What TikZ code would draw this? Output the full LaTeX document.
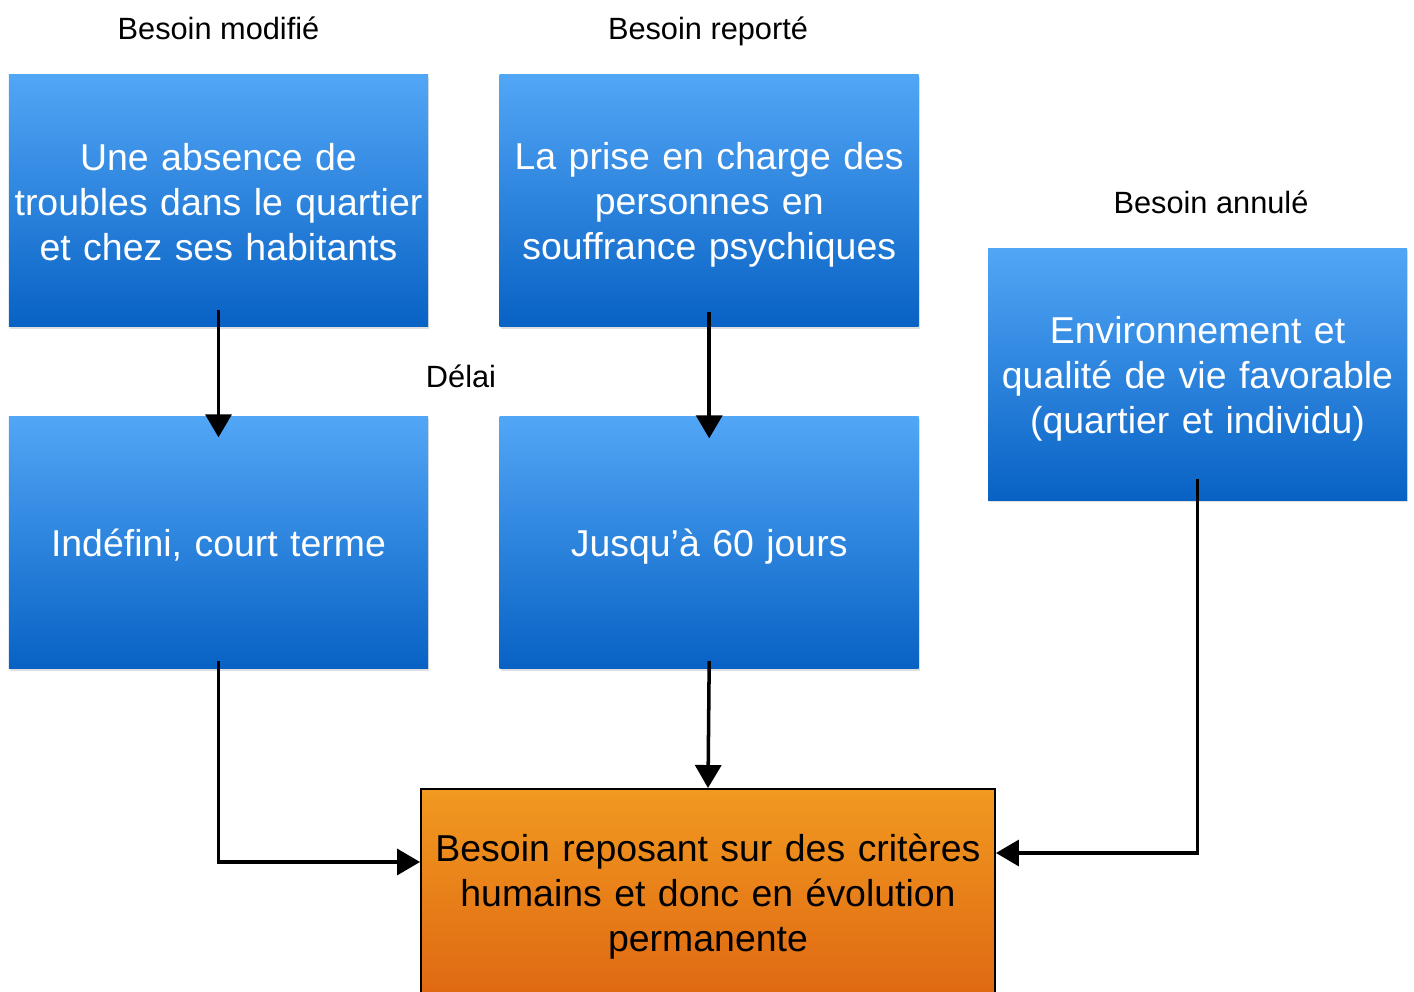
\documentclass[tikz,border=0pt]{standalone}
\usepackage{fontspec}
\setmainfont{Liberation Sans}
\usetikzlibrary{arrows.meta,positioning,shadows}
\definecolor{boxbluetop}{RGB}{82,166,246}
\definecolor{boxbluebottom}{RGB}{8,98,196}
\definecolor{boxorangetop}{RGB}{241,153,32}
\definecolor{boxorangebottom}{RGB}{223,104,18}
\tikzset{>={Triangle[length=0.46cm,width=0.52cm]},
  box_text/.style={font=\fontsize{21.3pt}{25.6pt}\selectfont,
    execute at begin node=\rule{0pt}{20pt},
    execute at end node=\rule[-4pt]{0pt}{4pt}},
  besoin_box/.style={box_text, rectangle, minimum width=8.38cm, minimum height=5.04cm,
    inner sep=0pt, text width=8.3cm, align=center,
    top color=boxbluetop, bottom color=boxbluebottom, text=white,
    drop shadow={opacity=0.25, shadow xshift=0.02cm, shadow yshift=-0.04cm}},
  critere_box/.style={box_text, rectangle, draw=black, line width=1.1pt,
    minimum width=11.48cm, minimum height=4.16cm, inner sep=0pt,
    text width=11.3cm, align=center,
    top color=boxorangetop, bottom color=boxorangebottom, text=black},
  titre/.style={font=\fontsize{17.5pt}{21pt}\selectfont, inner sep=0pt,
    text height=13pt, text depth=0pt},
  fleche/.style={->, line width=2pt}
}

\begin{document}
\begin{tikzpicture}
  \useasboundingbox (0,0) rectangle (28.28,-19.84);

  \node[besoin_box] (A) at (4.37,-4.02) {Une absence de\\troubles dans le quartier\\et chez ses habitants};
  \node[besoin_box, right=1.42cm of A] (B) {La prise en charge des\\personnes en\\souffrance psychiques};
  \node[besoin_box, below=1.78cm of A] (D) {Indéfini, court terme};
  \node[besoin_box, below=1.78cm of B] (E) {Jusqu’à 60 jours};
  \node[besoin_box] (C) at (23.95,-7.49) {Environnement et\\qualité de vie favorable\\(quartier et individu)};
  \node[critere_box] (F) at (14.16,-17.86) {Besoin reposant sur des critères\\humains et donc en évolution\\permanente};

  \node[titre] (tA) at (4.37,-0.56) {Besoin modifié};
  \node[titre] (tB) at (14.16,-0.56) {Besoin reporté};
  \node[titre] (tC) at (24.22,-4.04) {Besoin annulé};
  \node[titre] (delai) at (9.22,-7.52) {Délai};

  \draw[fleche] ([yshift=0.34cm]A.south) -- ([yshift=-0.42cm]D.north);
  \draw[fleche] ([yshift=0.3cm]B.south) -- ([yshift=-0.44cm]E.north);
  \draw[fleche] ([yshift=0.16cm]E.south) -- (F.north);
  \draw[fleche] ([yshift=0.16cm]D.south) |- ([yshift=0.62cm]F.west);
  \draw[fleche] ([yshift=0.44cm]C.south) |- ([yshift=0.8cm]F.east);
\end{tikzpicture}
\end{document}
